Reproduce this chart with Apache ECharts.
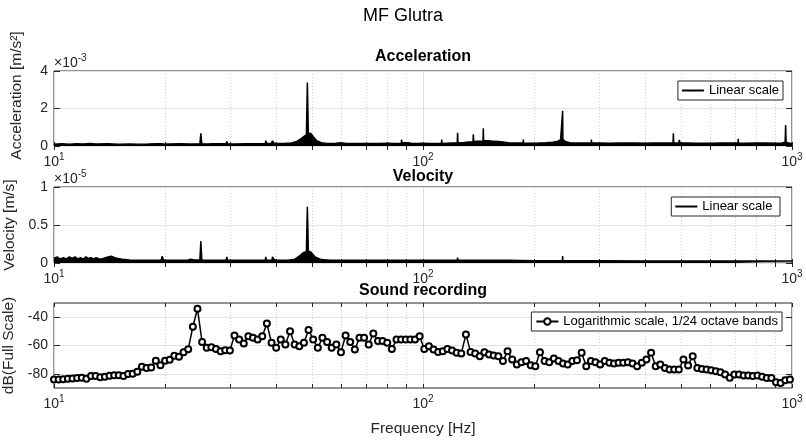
<!DOCTYPE html>
<html><head><meta charset="utf-8">
<script src="https://cdn.jsdelivr.net/npm/echarts@6/dist/echarts.min.js"></script>
<style>html,body{margin:0;padding:0;background:#fff}#c{width:806px;height:443px}</style>
</head><body><div id="c"></div>
<script>
const FONT = '"Liberation Sans", Arial, Helvetica, sans-serif';
const AX = '#262626';

// Acceleration spectrum envelope, [frequency Hz, value x10^-3 m/s^2]
const accelPoints = [[10,0.1],[10.5,0.12],[11,0.1],[11.5,0.12],[12,0.11],[12.5,0.14],[13,0.11],[14,0.12],[15,0.1],[16,0.11],[17,0.1],[18,0.11],[19,0.12],[19.5,0.12],[19.65,0.2],[19.8,0.11],[20.5,0.11],[22,0.12],[23.3,0.11],[23.4,0.16],[23.5,0.11],[24.85,0.12],[25,0.68],[25.15,0.12],[26,0.11],[27,0.12],[28.5,0.12],[29.25,0.12],[29.4,0.24],[29.55,0.12],[31,0.11],[33,0.12],[35,0.12],[37.35,0.13],[37.5,0.29],[37.65,0.14],[38.8,0.13],[39.1,0.27],[39.4,0.16],[39.7,0.22],[40,0.14],[42,0.13],[44,0.16],[45.5,0.24],[46.5,0.36],[47.5,0.5],[48.3,0.6],[48.6,3.39],[48.9,0.65],[49.6,0.68],[50.5,0.48],[51.5,0.28],[53,0.18],[55,0.14],[58,0.15],[60,0.17],[62,0.14],[65,0.13],[68,0.13],[72,0.13],[76,0.14],[80,0.15],[84,0.14],[87.3,0.14],[87.5,0.34],[87.7,0.16],[89,0.17],[90,0.27],[91,0.17],[93,0.15],[96,0.14],[100,0.15],[105,0.14],[110,0.14],[112.2,0.14],[112.4,0.34],[112.6,0.14],[116,0.15],[120,0.16],[123.8,0.16],[124.1,0.71],[124.4,0.18],[128,0.18],[133,0.21],[136.6,0.21],[136.9,0.62],[137.2,0.24],[140,0.26],[143,0.26],[145.4,0.26],[145.7,0.95],[146,0.28],[150,0.28],[155,0.26],[160,0.24],[165,0.21],[170,0.18],[175,0.16],[180,0.16],[186.7,0.16],[187,0.34],[187.3,0.16],[195,0.15],[205,0.16],[215,0.18],[225,0.2],[232,0.26],[236,0.34],[238.6,0.4],[239,1.88],[239.4,0.36],[243,0.24],[250,0.18],[260,0.16],[270,0.16],[280,0.16],[285.6,0.16],[286,0.34],[286.4,0.16],[300,0.16],[320,0.15],[340,0.16],[360,0.16],[380,0.16],[400,0.15],[420,0.16],[440,0.16],[460,0.16],[476,0.16],[477,0.68],[478,0.18],[485,0.16],[493,0.16],[495,0.32],[497,0.16],[520,0.16],[550,0.15],[580,0.15],[610,0.15],[640,0.16],[670,0.16],[714,0.16],[715,0.38],[716,0.16],[750,0.15],[800,0.16],[850,0.16],[900,0.15],[940,0.16],[958,0.2],[961,1.12],[964,0.2],[980,0.16],[1000,0.14]];

// Velocity spectrum envelope, [frequency Hz, value x10^-5 m/s]
const velPoints = [[10,0.06],[10.2,0.08],[10.4,0.05],[10.6,0.07],[10.8,0.05],[11,0.08],[11.2,0.06],[11.4,0.08],[11.6,0.05],[11.8,0.07],[12,0.05],[12.2,0.08],[12.4,0.06],[12.6,0.07],[12.8,0.05],[13,0.07],[13.3,0.05],[13.6,0.06],[14,0.08],[14.3,0.09],[14.6,0.07],[14.9,0.06],[15.3,0.05],[16,0.04],[17,0.035],[18,0.035],[19.5,0.035],[19.65,0.09],[19.8,0.035],[21,0.035],[23,0.035],[23.4,0.05],[24,0.04],[24.85,0.04],[25,0.29],[25.15,0.04],[26,0.035],[29.25,0.035],[29.4,0.08],[29.55,0.035],[33,0.035],[37.35,0.035],[37.5,0.08],[37.65,0.035],[38.95,0.035],[39.1,0.08],[39.4,0.05],[40,0.035],[43,0.035],[45,0.05],[46.5,0.1],[47.5,0.14],[48.3,0.15],[48.6,0.74],[48.9,0.16],[49.8,0.14],[51,0.08],[53,0.045],[56,0.035],[65,0.035],[80,0.035],[100,0.035],[123.8,0.035],[124.1,0.07],[124.4,0.035],[136.6,0.035],[136.9,0.05],[137.2,0.035],[145.4,0.035],[145.7,0.05],[146,0.035],[170,0.035],[200,0.03],[238.6,0.03],[239,0.09],[239.4,0.03],[300,0.03],[400,0.025],[500,0.025],[700,0.025],[1000,0.025]];

// Sound recording, 1/24 octave bands starting at 10 Hz (dB Full Scale)
const bandStartHz = 10;
const bandsPerOctave = 24;
const soundDb = [-84,-84,-83.8,-83.5,-83.3,-83,-82.8,-83.5,-81.6,-81.6,
 -82.4,-82.1,-81.4,-81,-81,-81.6,-80.2,-80,-78.6,-75,
 -75.8,-75.5,-70.8,-73.9,-70.8,-70,-67.3,-68,-64.7,-62.6,
 -46.8,-34.1,-57.6,-61.6,-61.2,-62.4,-64,-63.3,-63.5,-52.9,
 -55.8,-58.6,-53.4,-54.6,-55.8,-53.4,-44.5,-58.1,-61.6,-55.8,
 -59.3,-49.9,-59.3,-60.5,-58,-49,-55.8,-61.6,-54.6,-57.6,
 -61.6,-59.3,-64.7,-52.9,-57.6,-62.8,-54.6,-54.6,-59.3,-51.5,
 -56.9,-56.9,-58,-62.4,-55.8,-55.8,-55.8,-55.8,-55.8,-53.4,
 -62.4,-60.5,-62.8,-64.5,-64,-62.4,-63.5,-65.2,-65.6,-52.2,
 -64.5,-65.6,-67.5,-64.7,-66.4,-67,-67.5,-71,-64,-69.9,
 -73.4,-71.8,-71,-73.9,-74.6,-64.7,-71,-71.8,-69.2,-71,
 -72.7,-73.4,-71,-70.4,-65.2,-74.6,-71,-71.8,-73.4,-71,
 -72.2,-72.7,-72.2,-72.2,-71.8,-72.7,-74.6,-72.2,-69.9,-65.2,
 -74.6,-73.4,-75.8,-77,-77,-77,-69.9,-74.1,-67.5,-75.8,
 -76.5,-77,-77.4,-78.1,-78.8,-80.5,-82.8,-80.5,-80.5,-81.2,
 -81.2,-81.6,-81.2,-82.1,-83,-83,-85.9,-86.4,-84.5,-84];

const xMajorTicks = [10, 100, 1000];
const xAllTicks = [10,20,30,40,50,60,70,80,90,100,200,300,400,500,600,700,800,900,1000];
const accelTicks = [0, 2, 4];
const velTicks = [0, 0.5, 1];
const dbTicks = [-80, -60, -40];

const soundPoints = soundDb.map((v, i) => [bandStartHz * Math.pow(2, i / bandsPerOctave), v]);

const grids = [
  {left: 54, top: 71, width: 738, height: 75},
  {left: 54, top: 187, width: 738, height: 76},
  {left: 54, top: 303, width: 738, height: 85}
];

const xAxes = [];
grids.forEach((g, gi) => {
  xAxes.push({
    type: 'log', logBase: 10, gridIndex: gi, min: 10, max: 1000, position: 'bottom',
    axisLine: {show: false},
    axisTick: {show: true, inside: true, length: 4, customValues: xAllTicks, lineStyle: {color: AX, width: 1}},
    axisLabel: {
      customValues: xMajorTicks, margin: 6, color: AX,
      formatter: v => '{b|10}{s|' + Math.round(Math.log10(v)) + '}',
      rich: {b: {fontSize: 14, fontFamily: FONT, color: AX}, s: {fontSize: 10, fontFamily: FONT, color: AX, padding: [0, 0, 10, 0]}}
    },
    splitLine: {show: true, lineStyle: {color: '#d4d4d4', width: 1, type: [1, 2]}},
    name: gi === 2 ? 'Frequency [Hz]' : '', nameLocation: 'middle', nameGap: 33,
    nameTextStyle: {fontSize: 15.5, fontFamily: FONT, color: AX}
  });
  xAxes.push({
    type: 'log', logBase: 10, gridIndex: gi, min: 10, max: 1000, position: 'top',
    axisLine: {show: false},
    axisTick: {show: true, inside: true, length: 4, customValues: xAllTicks, lineStyle: {color: AX, width: 1}},
    axisLabel: {show: false}, splitLine: {show: false}
  });
  xAxes.push({
    type: 'log', logBase: 10, gridIndex: gi, min: 10, max: 1000, position: 'bottom',
    axisLine: {show: false},
    axisTick: {show: false, customValues: xMajorTicks},
    axisLabel: {show: false},
    splitLine: {show: true, lineStyle: {color: '#dcdcdc', width: 1, type: 'solid'}}
  });
});

const yCfg = [
  {min: 0, max: 4, ticks: accelTicks, name: 'Acceleration [m/s\u00B2]', pad: [0, 0, 0, 26]},
  {min: 0, max: 1, ticks: velTicks, name: 'Velocity [m/s]', pad: 0},
  {min: -90, max: -30, ticks: dbTicks, name: 'dB(Full Scale)', pad: 0}
];
const yAxes = [];
yCfg.forEach((c, gi) => {
  yAxes.push({
    type: 'value', gridIndex: gi, min: c.min, max: c.max, position: 'left',
    axisLine: {show: false},
    axisTick: {show: true, inside: true, length: 6, customValues: c.ticks, lineStyle: {color: AX}},
    axisLabel: {customValues: c.ticks, fontSize: 14, fontFamily: FONT, color: AX, margin: 6},
    splitLine: {show: true, lineStyle: {color: '#e2e2e2', width: 1}},
    name: c.name, nameLocation: 'middle', nameGap: 29,
    nameTextStyle: {fontSize: 15.5, fontFamily: FONT, color: AX, padding: c.pad}
  });
  yAxes.push({
    type: 'value', gridIndex: gi, min: c.min, max: c.max, position: 'right',
    axisLine: {show: false},
    axisTick: {show: true, inside: true, length: 6, customValues: c.ticks, lineStyle: {color: AX}},
    axisLabel: {show: false}, splitLine: {show: false}
  });
});

const legendBase = {
  orient: 'horizontal', backgroundColor: '#fff', borderColor: AX, borderWidth: 1,
  padding: [3, 4, 3, 4], itemGap: 4,
  textStyle: {fontSize: 13, fontFamily: FONT, color: '#000'}
};

const option = {
  animation: false,
  textStyle: {fontFamily: FONT},
  grid: grids.map(g => Object.assign({show: true, borderColor: AX, borderWidth: 1, backgroundColor: 'transparent', containLabel: false, outerBoundsMode: 'none'}, g)),
  xAxis: xAxes,
  yAxis: yAxes,
  title: [{text: 'MF Glutra', left: 'center', top: 2, textStyle: {fontSize: 18, fontWeight: 'normal', fontFamily: FONT, color: '#000'}}],
  legend: [
    Object.assign({}, legendBase, {data: [{name: 'Linear scale', icon: 'rect'}], right: 23, top: 81, itemWidth: 22, itemHeight: 2}),
    Object.assign({}, legendBase, {data: [{name: 'Linear scale ', icon: 'rect'}], right: 26, top: 197, itemWidth: 22, itemHeight: 2}),
    Object.assign({}, legendBase, {data: ['Logarithmic scale, 1/24 octave bands'], right: 24, top: 312, itemWidth: 22, itemHeight: 8})
  ],
  graphic: [
    {type: 'text', x: 423, y: 57, style: {text: 'Acceleration', font: 'bold 16px ' + FONT, fill: '#000', textAlign: 'center', textVerticalAlign: 'middle', align: 'center', verticalAlign: 'middle'}},
    {type: 'text', x: 423, y: 177, style: {text: 'Velocity', font: 'bold 16px ' + FONT, fill: '#000', textAlign: 'center', textVerticalAlign: 'middle', align: 'center', verticalAlign: 'middle'}},
    {type: 'text', x: 423, y: 291, style: {text: 'Sound recording', font: 'bold 16px ' + FONT, fill: '#000', textAlign: 'center', textVerticalAlign: 'middle', align: 'center', verticalAlign: 'middle'}},
    {type: 'text', x: 54, y: 53, style: {text: '{a|\u00D710}{s|-3}', rich: {a: {fontSize: 14, fontFamily: FONT, fill: AX, color: AX}, s: {fontSize: 10, fontFamily: FONT, fill: AX, color: AX, padding: [0,0,10,0]}}}},
    {type: 'text', x: 54, y: 169, style: {text: '{a|\u00D710}{s|-5}', rich: {a: {fontSize: 14, fontFamily: FONT, fill: AX, color: AX}, s: {fontSize: 10, fontFamily: FONT, fill: AX, color: AX, padding: [0,0,10,0]}}}}
  ],
  series: [
    {name: 'Linear scale', type: 'line', xAxisIndex: 0, yAxisIndex: 0, data: accelPoints, symbol: 'none', z: 5,
      lineStyle: {color: '#000', width: 1.5}, itemStyle: {color: '#000'}, areaStyle: {color: '#000', opacity: 1}},
    {name: 'Linear scale ', type: 'line', xAxisIndex: 3, yAxisIndex: 2, data: velPoints, symbol: 'none', z: 5,
      lineStyle: {color: '#000', width: 1.5}, itemStyle: {color: '#000'}, areaStyle: {color: '#000', opacity: 1}},
    {name: 'Logarithmic scale, 1/24 octave bands', type: 'line', xAxisIndex: 6, yAxisIndex: 4, data: soundPoints,
      symbol: 'emptyCircle', symbolSize: 6, z: 5,
      lineStyle: {color: '#000', width: 1.5}, itemStyle: {color: '#000', borderColor: '#000', borderWidth: 1.4}}
  ]
};

const chart = echarts.init(document.getElementById('c'), null, {renderer: 'canvas'});
chart.setOption(option);
</script>
</body></html>
